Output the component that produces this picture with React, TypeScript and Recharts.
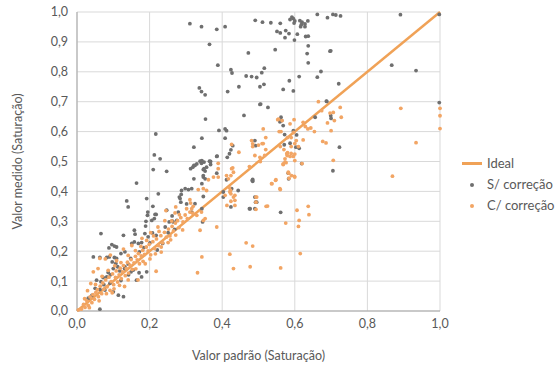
import React from 'react';
import {
  ScatterChart,
  Scatter,
  XAxis,
  YAxis,
  CartesianGrid,
  ReferenceLine,
} from 'recharts';

// points: [valor padrão, valor medido]
const semCorrecao: [number, number][] = [
  [0.311, 0.961], [0.343, 0.951], [0.385, 0.942], [0.408, 0.951], [0.491, 0.972], [0.365, 0.892],
  [0.472, 0.863], [0.388, 0.822], [0.424, 0.807], [0.427, 0.796], [0.466, 0.786], [0.481, 0.784],
  [0.495, 0.781], [0.337, 0.746], [0.343, 0.734], [0.353, 0.723], [0.415, 0.734], [0.446, 0.75],
  [0.504, 0.75], [0.515, 0.758], [0.504, 0.691], [0.354, 0.642], [0.46, 0.654], [0.391, 0.604],
  [0.408, 0.609], [0.412, 0.603], [0.217, 0.592], [0.344, 0.578], [0.408, 0.578], [0.322, 0.548],
  [0.213, 0.522], [0.229, 0.509], [0.386, 0.518],
  [0.511, 0.966], [0.534, 0.964], [0.56, 0.962], [0.587, 0.975], [0.592, 0.983], [0.596, 0.978],
  [0.6, 0.97], [0.598, 0.963], [0.614, 0.971], [0.62, 0.966], [0.636, 0.97], [0.618, 0.958],
  [0.628, 0.96], [0.662, 0.992], [0.69, 0.981], [0.705, 0.992], [0.713, 0.99], [0.726, 0.987],
  [0.551, 0.935], [0.56, 0.93], [0.575, 0.938], [0.584, 0.928], [0.573, 0.914], [0.599, 0.906],
  [0.607, 0.926], [0.616, 0.951], [0.628, 0.951], [0.63, 0.918], [0.637, 0.919], [0.637, 0.887],
  [0.546, 0.874], [0.634, 0.861], [0.637, 0.83], [0.699, 0.87], [0.516, 0.812], [0.509, 0.797],
  [0.612, 0.784], [0.662, 0.782], [0.672, 0.801], [0.585, 0.77], [0.568, 0.741], [0.596, 0.736],
  [0.721, 0.76], [0.688, 0.701], [0.867, 0.822], [0.934, 0.804], [0.891, 0.991], [0.998, 0.992],
  [0.697, 0.869], [0.998, 0.697],
  [0.506, 0.692], [0.526, 0.681], [0.687, 0.702], [0.656, 0.648], [0.699, 0.653], [0.7, 0.644],
  [0.723, 0.548], [0.705, 0.469], [0.562, 0.648], [0.559, 0.633], [0.564, 0.637], [0.568, 0.62],
  [0.596, 0.603], [0.572, 0.59], [0.605, 0.589], [0.612, 0.544], [0.571, 0.556], [0.587, 0.561],
  [0.603, 0.548], [0.582, 0.461], [0.583, 0.442], [0.484, 0.434], [0.49, 0.57], [0.492, 0.553],
  [0.619, 0.493], [0.561, 0.33], [0.492, 0.364], [0.429, 0.553], [0.424, 0.539], [0.42, 0.526],
  [0.385, 0.517], [0.339, 0.501], [0.343, 0.494], [0.33, 0.492], [0.325, 0.487], [0.319, 0.481],
  [0.365, 0.501], [0.368, 0.49], [0.357, 0.481], [0.348, 0.473], [0.353, 0.468], [0.385, 0.461],
  [0.313, 0.476], [0.322, 0.442], [0.348, 0.448], [0.484, 0.44], [0.412, 0.439], [0.288, 0.403],
  [0.298, 0.409], [0.307, 0.406], [0.287, 0.39], [0.282, 0.381], [0.316, 0.409], [0.444, 0.403],
  [0.403, 0.398], [0.403, 0.381], [0.284, 0.376], [0.286, 0.364], [0.348, 0.383], [0.475, 0.342],
  [0.49, 0.342], [0.21, 0.473], [0.247, 0.467], [0.164, 0.428], [0.137, 0.368], [0.141, 0.348],
  [0.192, 0.376], [0.224, 0.392], [0.209, 0.35], [0.195, 0.331], [0.194, 0.32], [0.19, 0.3],
  [0.189, 0.284], [0.215, 0.323], [0.213, 0.309], [0.218, 0.323], [0.206, 0.303], [0.262, 0.301],
  [0.254, 0.298], [0.275, 0.303], [0.265, 0.298], [0.247, 0.337], [0.316, 0.331], [0.325, 0.359],
  [0.344, 0.342], [0.346, 0.298], [0.35, 0.476], [0.348, 0.453], [0.353, 0.442], [0.344, 0.426],
  [0.322, 0.487], [0.35, 0.498], [0.344, 0.503], [0.414, 0.514], [0.368, 0.5], [0.426, 0.409],
  [0.424, 0.348], [0.483, 0.437], [0.49, 0.381], [0.495, 0.364], [0.477, 0.342],
  [0.066, 0.259], [0.128, 0.253], [0.158, 0.27], [0.16, 0.257], [0.187, 0.259], [0.196, 0.248],
  [0.178, 0.229], [0.169, 0.226], [0.158, 0.231], [0.151, 0.226], [0.096, 0.222], [0.103, 0.217],
  [0.109, 0.214], [0.088, 0.211], [0.045, 0.181], [0.063, 0.179], [0.082, 0.179], [0.089, 0.181],
  [0.103, 0.179], [0.109, 0.176], [0.097, 0.164], [0.107, 0.159], [0.112, 0.148], [0.1, 0.142],
  [0.132, 0.148], [0.141, 0.157], [0.149, 0.131], [0.054, 0.103], [0.066, 0.098], [0.072, 0.112],
  [0.082, 0.114], [0.05, 0.076], [0.063, 0.072], [0.077, 0.07], [0.063, 0.006], [0.114, 0.053],
  [0.128, 0.048], [0.1, 0.064], [0.155, 0.137], [0.171, 0.128], [0.164, 0.103], [0.178, 0.114],
  [0.192, 0.131], [0.208, 0.261], [0.218, 0.253], [0.121, 0.192], [0.132, 0.198], [0.086, 0.129],
  [0.092, 0.121], [0.041, 0.052], [0.031, 0.043], [0.121, 0.102], [0.142, 0.121], [0.221, 0.204],
  [0.251, 0.262], [0.269, 0.273], [0.236, 0.226],
  [0.091, 0.093], [0.131, 0.142], [0.172, 0.198], [0.201, 0.228], [0.243, 0.281], [0.279, 0.331],
  [0.302, 0.358], [0.262, 0.318], [0.118, 0.134], [0.148, 0.176], [0.074, 0.088], [0.184, 0.212],
];

const comCorrecao: [number, number][] = [
  [0.892, 0.678], [1.0, 0.678], [1.0, 0.653], [1.0, 0.61], [0.934, 0.563], [0.869, 0.451], [0.706, 0.504],
  [0.637, 0.35], [0.639, 0.322], [0.606, 0.337], [0.612, 0.303], [0.61, 0.283], [0.615, 0.192],
  [0.561, 0.144], [0.477, 0.148], [0.484, 0.217], [0.575, 0.294], [0.525, 0.351], [0.493, 0.34],
  [0.493, 0.381], [0.56, 0.406], [0.537, 0.426], [0.547, 0.437], [0.583, 0.461], [0.6, 0.448],
  [0.568, 0.49], [0.576, 0.496], [0.58, 0.53], [0.59, 0.527], [0.6, 0.525],
  [0.665, 0.7], [0.674, 0.67], [0.697, 0.662], [0.706, 0.664], [0.725, 0.681], [0.728, 0.648],
  [0.709, 0.637], [0.69, 0.629], [0.7, 0.603], [0.677, 0.567], [0.686, 0.562], [0.553, 0.64],
  [0.565, 0.637], [0.557, 0.6], [0.562, 0.6], [0.598, 0.64], [0.597, 0.597], [0.623, 0.631],
  [0.629, 0.617], [0.636, 0.609], [0.644, 0.612], [0.654, 0.6], [0.59, 0.58], [0.604, 0.57],
  [0.623, 0.572], [0.59, 0.55], [0.6, 0.56], [0.61, 0.55], [0.579, 0.52], [0.587, 0.517],
  [0.596, 0.517], [0.6, 0.503], [0.568, 0.492], [0.573, 0.498], [0.62, 0.493], [0.584, 0.444],
  [0.599, 0.45], [0.548, 0.439], [0.536, 0.426], [0.484, 0.55], [0.5, 0.555], [0.513, 0.56],
  [0.52, 0.54], [0.49, 0.52], [0.517, 0.52], [0.505, 0.5], [0.513, 0.609], [0.504, 0.514],
  [0.555, 0.642], [0.587, 0.626], [0.58, 0.58], [0.56, 0.55], [0.57, 0.54], [0.578, 0.526],
  [0.573, 0.509], [0.582, 0.464], [0.591, 0.453], [0.559, 0.409],
  [0.389, 0.494], [0.446, 0.531], [0.426, 0.557], [0.484, 0.559], [0.481, 0.57], [0.51, 0.56],
  [0.52, 0.58], [0.389, 0.448], [0.426, 0.476], [0.431, 0.464], [0.424, 0.453], [0.417, 0.442],
  [0.475, 0.483], [0.334, 0.406], [0.348, 0.409], [0.357, 0.403], [0.42, 0.412], [0.423, 0.403],
  [0.424, 0.392], [0.435, 0.387], [0.495, 0.381], [0.493, 0.364], [0.311, 0.372], [0.313, 0.361],
  [0.32, 0.35], [0.316, 0.342], [0.424, 0.367], [0.435, 0.353], [0.413, 0.353], [0.521, 0.35],
  [0.33, 0.32], [0.343, 0.331], [0.353, 0.309], [0.348, 0.303], [0.339, 0.27], [0.385, 0.281],
  [0.344, 0.181], [0.332, 0.128], [0.421, 0.19], [0.431, 0.142], [0.466, 0.228], [0.408, 0.387],
  [0.421, 0.398], [0.431, 0.381], [0.435, 0.37], [0.376, 0.448], [0.362, 0.439], [0.389, 0.476],
  [0.412, 0.453], [0.429, 0.479], [0.245, 0.336], [0.272, 0.348], [0.27, 0.328],
  [0.004, 0.004], [0.012, 0.006], [0.018, 0.022], [0.022, 0.012], [0.027, 0.034], [0.031, 0.019],
  [0.036, 0.047], [0.041, 0.028], [0.044, 0.055], [0.048, 0.039], [0.052, 0.062], [0.056, 0.071],
  [0.059, 0.048], [0.064, 0.083], [0.068, 0.058], [0.071, 0.094], [0.074, 0.073], [0.079, 0.104],
  [0.083, 0.081], [0.088, 0.113], [0.091, 0.069], [0.094, 0.098], [0.098, 0.124], [0.101, 0.088],
  [0.106, 0.112], [0.108, 0.134], [0.112, 0.097], [0.116, 0.121], [0.119, 0.143], [0.122, 0.108],
  [0.126, 0.131], [0.128, 0.152], [0.133, 0.118], [0.136, 0.142], [0.139, 0.163], [0.142, 0.127],
  [0.146, 0.153], [0.149, 0.172], [0.152, 0.139], [0.157, 0.161], [0.161, 0.183], [0.166, 0.171],
  [0.169, 0.192], [0.172, 0.158], [0.177, 0.184], [0.181, 0.203], [0.186, 0.189], [0.191, 0.214],
  [0.196, 0.201], [0.199, 0.223], [0.203, 0.188], [0.209, 0.232], [0.214, 0.209], [0.219, 0.241],
  [0.224, 0.219], [0.231, 0.252], [0.236, 0.228], [0.241, 0.263], [0.246, 0.247], [0.252, 0.274],
  [0.256, 0.251], [0.262, 0.283], [0.266, 0.268], [0.271, 0.294], [0.277, 0.302], [0.281, 0.279],
  [0.286, 0.312], [0.292, 0.298], [0.298, 0.321], [0.304, 0.309], [0.311, 0.331], [0.319, 0.327],
  [0.045, 0.131], [0.218, 0.133], [0.063, 0.176], [0.078, 0.174], [0.058, 0.142], [0.092, 0.187],
  [0.109, 0.168], [0.128, 0.207], [0.151, 0.219], [0.179, 0.243], [0.203, 0.262], [0.223, 0.281],
  [0.242, 0.302], [0.168, 0.104], [0.131, 0.082], [0.097, 0.061], [0.188, 0.158], [0.232, 0.197],
  [0.258, 0.238], [0.029, 0.068], [0.038, 0.092],
  [0.034, 0.011], [0.061, 0.034], [0.081, 0.058], [0.102, 0.074], [0.117, 0.086], [0.141, 0.104],
  [0.162, 0.141], [0.182, 0.166], [0.201, 0.174], [0.216, 0.191], [0.232, 0.214], [0.251, 0.229],
  [0.272, 0.254], [0.291, 0.271], [0.021, 0.041], [0.051, 0.089], [0.069, 0.116], [0.086, 0.136],
  [0.104, 0.151], [0.121, 0.162], [0.141, 0.186], [0.161, 0.202], [0.176, 0.216], [0.192, 0.236],
  [0.211, 0.251], [0.226, 0.266], [0.261, 0.301], [0.282, 0.322], [0.302, 0.342],
];

const idealLine: [number, number][] = [[0, 0], [1, 1]];
const xTicks = [0, 0.2, 0.4, 0.6, 0.8, 1.0];
const yTicks = [0, 0.1, 0.2, 0.3, 0.4, 0.5, 0.6, 0.7, 0.8, 0.9, 1.0];
const legendNames = ['Ideal', 'S/ correção', 'C/ correção'];

const GRAY = '#6f6f6f';
const ORANGE = '#f2a564';
const LINE = '#f0a257';
const TEXT = '#595959';
const FONT = 'Lato, "Open Sans", sans-serif';

const fmt = (v: number) => v.toFixed(1).replace('.', ',');
const toPts = (arr: [number, number][]) => arr.map(([x, y]) => ({ x, y }));

const dot = (color: string) => (props: any) => (
  <circle cx={props.cx} cy={props.cy} r={1.9} fill={color} />
);

// legend sits outside the chart so it does not shrink the plot area
const LegendBox = () => (
  <div
    style={{
      position: 'absolute', left: 462, top: 153, width: 98,
      fontFamily: FONT, fontSize: 13, color: TEXT, lineHeight: '21px',
    }}
  >
    {legendNames.map((name, i) => (
      <div key={name} style={{ display: 'flex', alignItems: 'center' }}>
        <span style={{ width: 20, display: 'flex', justifyContent: 'center', marginRight: 5 }}>
          {i === 0 ? (
            <span style={{ width: 20, height: 2.5, background: LINE }} />
          ) : (
            <span style={{ width: 4, height: 4, borderRadius: 2, background: i === 1 ? GRAY : ORANGE }} />
          )}
        </span>
        {name}
      </div>
    ))}
  </div>
);

export default function App() {
  const tick = { fontSize: 12.5, fill: TEXT, fontFamily: FONT };
  return (
    <div style={{ position: 'absolute', left: 0, top: 0, width: 560, height: 372, background: '#fff' }}>
      <ScatterChart width={560} height={372} margin={{ top: 12, right: 120, bottom: 0, left: 0 }}>
        <CartesianGrid stroke="#d9d9d9" horizontalValues={yTicks} verticalValues={xTicks} />
        <XAxis
          type="number"
          dataKey="x"
          domain={[0, 1]}
          ticks={xTicks}
          tickFormatter={fmt}
          tick={tick}
          tickLine={false}
          tickMargin={2}
          axisLine={{ stroke: '#a6a6a6' }}
          height={61}
          label={{ value: 'Valor padrão (Saturação)', position: 'insideBottom', offset: 12, style: { fontSize: 12.5, fill: TEXT, fontFamily: FONT } }}
        />
        <YAxis
          type="number"
          dataKey="y"
          domain={[0, 1]}
          ticks={yTicks}
          tickFormatter={fmt}
          tick={tick}
          tickLine={false}
          tickMargin={3}
          axisLine={{ stroke: '#a6a6a6' }}
          width={77}
          label={{ value: 'Valor medido (Saturação)', angle: -90, position: 'insideLeft', offset: 18, style: { textAnchor: 'middle', fontSize: 12.5, fill: TEXT, fontFamily: FONT } }}
        />
        <Scatter name="S/ correção" data={toPts(semCorrecao)} fill={GRAY} shape={dot(GRAY)} isAnimationActive={false} />
        <Scatter name="C/ correção" data={toPts(comCorrecao)} fill={ORANGE} shape={dot(ORANGE)} isAnimationActive={false} />
        <ReferenceLine segment={toPts(idealLine)} stroke={LINE} strokeWidth={2.5} />
      </ScatterChart>
      <LegendBox />
    </div>
  );
}
